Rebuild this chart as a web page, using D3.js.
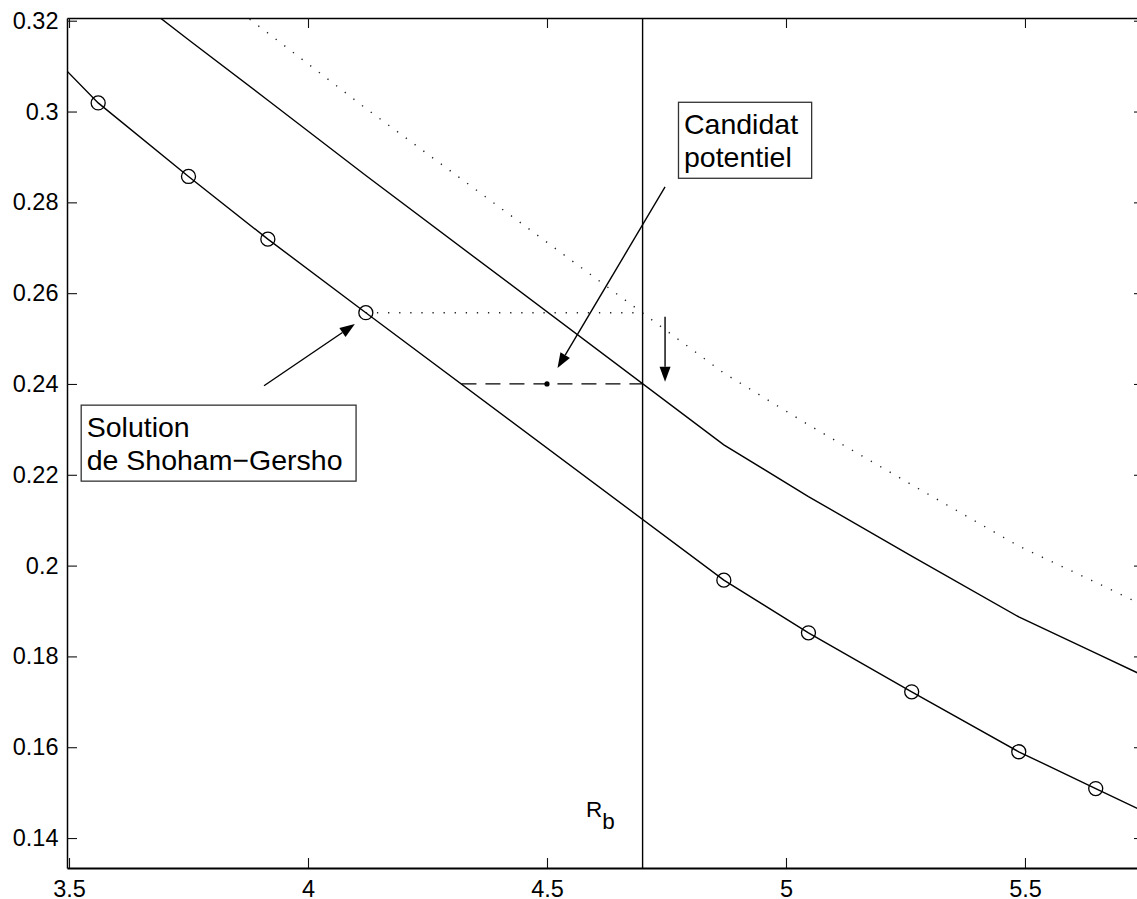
<!DOCTYPE html>
<html lang="fr">
<head>
<meta charset="UTF-8">
<title>Candidat potentiel</title>
<style>
  body { margin: 0; background: #fff; }
  svg { display: block; font-family: "Liberation Sans", Arial, Helvetica, sans-serif; }
  .axis .domain { stroke: #000; stroke-width: 1.5; }
  .axis .tick line { stroke: #111; stroke-width: 1.1; }
  .axis text { font-size: 23.5px; fill: #000; font-family: "Liberation Sans", Arial, sans-serif; }
</style>
</head>
<body>
<script src="https://d3js.org/d3.v7.min.js"></script>
<script>
// ticks
var xTicks = [3.5, 4, 4.5, 5, 5.5];
var xTickLabels = ["3.5", "4", "4.5", "5", "5.5"];
var yTicks = [0.14, 0.16, 0.18, 0.2, 0.22, 0.24, 0.26, 0.28, 0.3, 0.32];
var yTickLabels = ["0.14", "0.16", "0.18", "0.2", "0.22", "0.24", "0.26", "0.28", "0.3", "0.32"];

// lower curve (with circle markers)
var lowerX = [3.496, 3.561, 3.750, 3.916, 4.121, 4.870, 5.047, 5.263, 5.487, 5.648, 5.749];
var lowerY = [0.3089, 0.3019, 0.2857, 0.2719, 0.2557, 0.1968, 0.1852, 0.1722, 0.1590, 0.1509, 0.1458];
var circleX = [3.561, 3.750, 3.916, 4.121, 4.870, 5.047, 5.263, 5.487, 5.648];
var circleY = [0.3019, 0.2857, 0.2719, 0.2557, 0.1968, 0.1852, 0.1722, 0.1590, 0.1509];

// middle solid curve
var upperX = [3.561, 3.750, 3.916, 4.121, 4.870, 5.047, 5.263, 5.487, 5.648, 5.749];
var upperY = [0.3312, 0.3158, 0.3025, 0.2859, 0.2266, 0.2152, 0.2021, 0.1887, 0.1807, 0.1757];

// dotted curve
var boundX = [3.750, 3.916, 4.121, 4.870, 5.047, 5.263, 5.487, 5.648, 5.749];
var boundY = [0.3304, 0.3173, 0.3007, 0.2424, 0.2310, 0.2178, 0.2043, 0.1963, 0.1912];

// Rb and the candidate
var rb = 4.7;
var candX = 4.5, candY = 0.24;
var dashStart = 4.321;
var sgX = 4.121, sgY = 0.2557;
var dropX = 4.747, dropTop = 0.2548, dropBottom = 0.2405;

// annotations (data units)
var arrowCand = [[4.747, 0.2834], [4.522, 0.2435]];
var arrowSol = [[3.908, 0.2396], [4.098, 0.2532]];
var notes = [
    {x: 4.7866, y: 0.2951, lines: ["Candidat", "potentiel"]},
    {x: 3.537, y: 0.2284, lines: ["Solution", "de Shoham\u2212Gersho"]}
];
var rbLabel = {x: 4.5816, y: 0.1446};

var W = 1137, H = 899;
var pLeft = 67, pRight = 1144, pTop = 18, pBottom = 868;

var svg = d3.select("body").append("svg").attr("width", W).attr("height", H);
svg.append("rect").attr("width", W).attr("height", H).attr("fill", "#fff");

var x = d3.scaleLinear().domain([3.4958, 5.749]).range([pLeft, pRight]);
var y = d3.scaleLinear().domain([0.1334, 0.3206]).range([pBottom, pTop]);

svg.append("clipPath").attr("id", "plot")
    .append("rect").attr("x", pLeft).attr("y", pTop).attr("width", pRight - pLeft).attr("height", pBottom - pTop);

// axes, ticks pointing inside
svg.append("g").attr("class", "axis").attr("transform", "translate(0," + pBottom + ")")
    .call(d3.axisBottom(x).tickValues(xTicks).tickFormat(function (d, i) { return xTickLabels[i]; })
        .tickSizeInner(-10).tickSizeOuter(0).tickPadding(12.5))
    .select(".domain").style("stroke-width", 2);
svg.append("g").attr("class", "axis").attr("transform", "translate(0," + pTop + ")")
    .call(d3.axisTop(x).tickValues(xTicks).tickFormat("").tickSizeInner(-10).tickSizeOuter(0));
svg.append("g").attr("class", "axis").attr("transform", "translate(" + pLeft + ",0)")
    .call(d3.axisLeft(y).tickValues(yTicks).tickFormat(function (d, i) { return yTickLabels[i]; })
        .tickSizeInner(-10).tickSizeOuter(0).tickPadding(8.5));
svg.append("g").attr("class", "axis").attr("transform", "translate(" + pRight + ",0)")
    .call(d3.axisRight(y).tickValues(yTicks).tickFormat("").tickSizeInner(-10).tickSizeOuter(0));

var plot = svg.append("g").attr("clip-path", "url(#plot)");
var line = d3.line().x(function (d) { return x(d[0]); }).y(function (d) { return y(d[1]); });

function pairs(xs, ys) { return xs.map(function (v, i) { return [v, ys[i]]; }); }

plot.append("path").attr("d", line(pairs(lowerX, lowerY)))
    .attr("fill", "none").attr("stroke", "#000").attr("stroke-width", 1.4);
plot.append("path").attr("d", line(pairs(upperX, upperY)))
    .attr("fill", "none").attr("stroke", "#000").attr("stroke-width", 1.4);
plot.append("path").attr("d", line(pairs(boundX, boundY)))
    .attr("fill", "none").attr("stroke", "#222").attr("stroke-width", 1.4)
    .attr("stroke-dasharray", "1.3,9.6");

plot.selectAll(".mk").data(pairs(circleX, circleY)).enter().append("circle")
    .attr("cx", function (d) { return x(d[0]); })
    .attr("cy", function (d) { return y(d[1]); })
    .attr("r", 7).attr("fill", "none").attr("stroke", "#000").attr("stroke-width", 1.3);

// Rb vertical line
plot.append("line").attr("x1", x(rb)).attr("x2", x(rb)).attr("y1", pTop).attr("y2", pBottom)
    .attr("stroke", "#000").attr("stroke-width", 1.4);

// dotted level of the Shoham-Gersho solution
plot.append("line").attr("x1", x(sgX)).attr("x2", x(rb)).attr("y1", y(sgY)).attr("y2", y(sgY))
    .attr("stroke", "#222").attr("stroke-width", 1.4).attr("stroke-dasharray", "1.3,9.8");

// dashed level of the candidate
plot.append("line").attr("x1", x(dashStart)).attr("x2", x(rb)).attr("y1", y(candY)).attr("y2", y(candY))
    .attr("stroke", "#000").attr("stroke-width", 1.3).attr("stroke-dasharray", "15,9");
plot.append("circle").attr("cx", x(candX)).attr("cy", y(candY)).attr("r", 2.6).attr("fill", "#000");

function arrow(p0, p1) {
    var x0 = x(p0[0]), y0 = y(p0[1]), x1 = x(p1[0]), y1 = y(p1[1]);
    var dx = x1 - x0, dy = y1 - y0, len = Math.sqrt(dx * dx + dy * dy);
    var ux = dx / len, uy = dy / len, hl = 15, hw = 5.5;
    var bx = x1 - ux * hl, by = y1 - uy * hl;
    svg.append("line").attr("x1", x0).attr("y1", y0).attr("x2", bx).attr("y2", by)
        .attr("stroke", "#000").attr("stroke-width", 1.4);
    svg.append("path")
        .attr("d", "M" + x1 + "," + y1 + "L" + (bx - uy * hw) + "," + (by + ux * hw) +
            "L" + (bx + uy * hw) + "," + (by - ux * hw) + "Z")
        .attr("fill", "#000");
}
arrow(arrowCand[0], arrowCand[1]);
arrow(arrowSol[0], arrowSol[1]);
arrow([dropX, dropTop], [dropX, dropBottom]);

// text boxes
notes.forEach(function (n) {
    var g = svg.append("g");
    var t = g.append("text").attr("x", x(n.x)).attr("y", y(n.y))
        .attr("font-size", "28.5px").attr("fill", "#000");
    n.lines.forEach(function (s, i) {
        t.append("tspan").attr("x", x(n.x)).attr("dy", i === 0 ? 0 : 33).text(s);
    });
    var b = t.node().getBBox();
    g.insert("rect", "text")
        .attr("x", b.x - 5.5).attr("y", b.y - 5.5)
        .attr("width", b.width + 19).attr("height", b.height + 11)
        .attr("fill", "#fff").attr("stroke", "#333").attr("stroke-width", 1.3);
});

// R_b label
var rt = svg.append("text").attr("x", x(rbLabel.x)).attr("y", y(rbLabel.y))
    .attr("font-size", "22.5px").attr("fill", "#000");
rt.append("tspan").text("R");
rt.append("tspan").attr("dy", 12).text("b");
</script>
</body>
</html>
